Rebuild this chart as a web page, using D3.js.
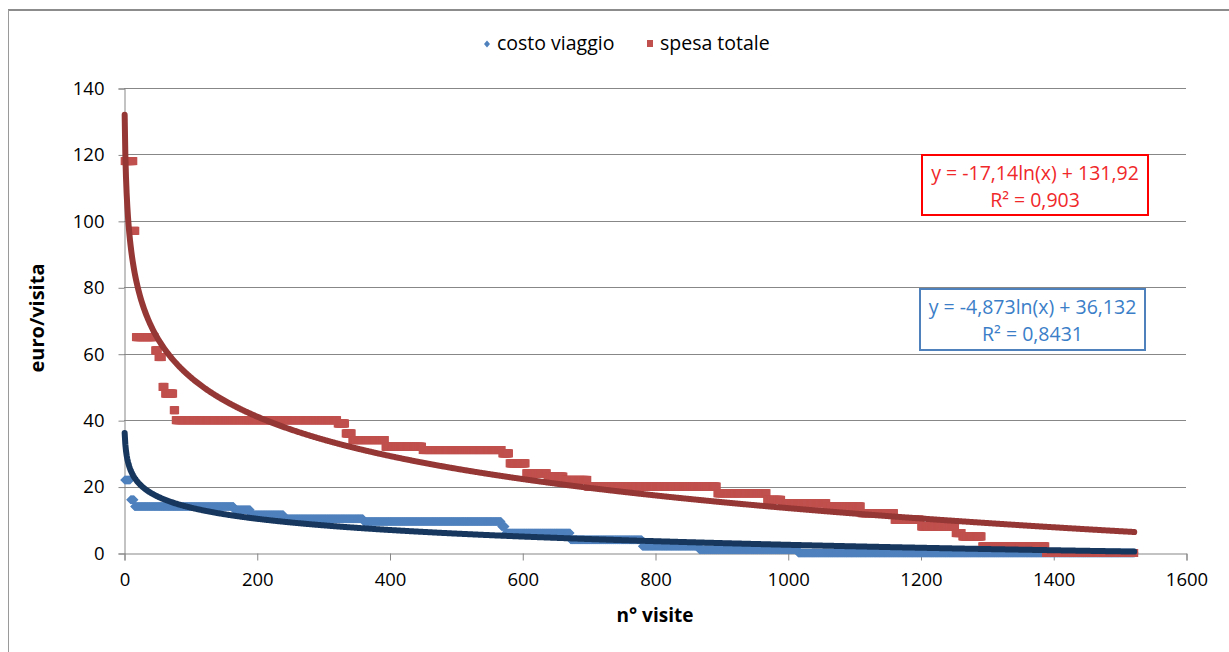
<!DOCTYPE html>
<html>
<head>
<meta charset="utf-8">
<script src="https://cdn.jsdelivr.net/npm/d3@7"></script>
<style>
  html, body { margin: 0; padding: 0; background: #ffffff; }
  svg { display: block; font-family: "Open Sans", "Noto Sans", sans-serif; }
</style>
</head>
<body>
<svg id="chart" width="1229" height="652"></svg>
<script>
// Visits sorted by decreasing amount: each value is repeated for the given number of visits.
const spesaValues = [118, 97, 65, 61, 59, 50, 48, 43, 40, 39, 36, 34, 32, 31, 30, 27, 24, 23, 22, 20, 18, 16, 15, 14, 12, 10, 8, 6, 5, 2, 0];
const spesaCounts = [14, 3, 29, 5, 6, 4, 13, 3, 244, 12, 10, 50, 56, 120, 11, 25, 32, 25, 36, 195, 75, 22, 68, 52, 50, 40, 52, 10, 30, 96, 134];

const costoValues = [22, 16, 14, 13, 11.5, 10.3, 9.5, 8, 6, 4, 2, 1, 0];
const costoCounts = [9, 6, 150, 25, 50, 120, 208, 6, 98, 108, 86, 149, 507];

// Logarithmic trendlines: y = a*ln(x) + b
const costoTrend = { a: -4.873, b: 36.132, r2: "0,8431" };
const spesaTrend = { a: -17.14, b: 131.92, r2: "0,903" };

const xTicks = [0, 200, 400, 600, 800, 1000, 1200, 1400, 1600];
const yTicks = [0, 20, 40, 60, 80, 100, 120, 140];

const seriesNames = ["costo viaggio", "spesa totale"];

function expand(values, counts) {
  const pts = [];
  let n = 0;
  values.forEach((v, i) => {
    for (let k = 0; k < counts[i]; k++) { n += 1; pts.push({ x: n, y: v }); }
  });
  return pts;
}

const costo = expand(costoValues, costoCounts);
const spesa = expand(spesaValues, spesaCounts);

const svg = d3.select("#chart");

// chart frame
svg.append("line").attr("x1", 8).attr("y1", 10).attr("x2", 1229).attr("y2", 10)
  .attr("stroke", "#8c8c8c").attr("stroke-width", 2);
svg.append("line").attr("x1", 8.5).attr("y1", 10).attr("x2", 8.5).attr("y2", 652)
  .attr("stroke", "#9a9a9a").attr("stroke-width", 1);

const x = d3.scaleLinear().domain([0, 1600]).range([124, 1186]);
const y = d3.scaleLinear().domain([0, 140]).range([553, 88]);

const gridColor = "#878787";

// horizontal gridlines
svg.append("g").selectAll("line").data(yTicks.filter(d => d > 0)).join("line")
  .attr("x1", x(0)).attr("x2", x(1600))
  .attr("y1", d => Math.round(y(d)) + 0.5).attr("y2", d => Math.round(y(d)) + 0.5)
  .attr("stroke", gridColor).attr("stroke-width", 1);

// y axis
const yAxis = d3.axisLeft(y).tickValues(yTicks).tickSize(6).tickPadding(14).tickFormat(d3.format("d"));
const gy = svg.append("g").attr("transform", `translate(${x(0) + 0.5},0.5)`).call(yAxis);
gy.select(".domain").attr("stroke", gridColor);
gy.selectAll(".tick line").attr("stroke", gridColor);
gy.selectAll(".tick text").attr("font-size", 18.5).attr("fill", "#000").attr("font-family", "Open Sans");

// x axis
const xAxis = d3.axisBottom(x).tickValues(xTicks).tickSize(7).tickPadding(12).tickFormat(d3.format("d"));
const gx = svg.append("g").attr("transform", `translate(0.5,${Math.round(y(0)) + 0.5})`).call(xAxis);
gx.select(".domain").attr("stroke", gridColor);
gx.selectAll(".tick line").attr("stroke", gridColor);
gx.selectAll(".tick text").attr("font-size", 18.5).attr("fill", "#000").attr("font-family", "Open Sans");

// data points
const blue = "#4f81bd", red = "#c0504d";
const diamond = "M0,-4.5L4.5,0L0,4.5L-4.5,0Z";
svg.append("g").selectAll("path").data(costo).join("path")
  .attr("d", diamond)
  .attr("transform", d => `translate(${x(d.x)},${y(d.y)})`)
  .attr("fill", blue);

svg.append("g").selectAll("rect").data(spesa).join("rect")
  .attr("x", d => x(d.x) - 4).attr("y", d => y(d.y) - 4)
  .attr("width", 8).attr("height", 8)
  .attr("fill", red);

// trendlines
function trendPoints(t, n) {
  return d3.range(1, n + 1).map(i => ({ x: i, y: t.a * Math.log(i) + t.b }));
}
const line = d3.line().x(d => x(d.x)).y(d => y(d.y)).curve(d3.curveLinear);
svg.append("path").datum(trendPoints(costoTrend, costo.length))
  .attr("d", line).attr("fill", "none").attr("stroke", "#17375e")
  .attr("stroke-width", 6).attr("stroke-linecap", "round");
svg.append("path").datum(trendPoints(spesaTrend, spesa.length))
  .attr("d", line).attr("fill", "none").attr("stroke", "#953735")
  .attr("stroke-width", 6).attr("stroke-linecap", "round");

// equation labels
const fmt = v => String(v).replace(".", ",");
function eqLabel(t, box, color, textColor) {
  const g = svg.append("g");
  g.append("rect").attr("x", box.x).attr("y", box.y).attr("width", box.w).attr("height", box.h)
    .attr("fill", "#fff").attr("stroke", color).attr("stroke-width", 2);
  const cx = box.x + box.w / 2;
  const sign = t.b >= 0 ? "+" : "-";
  g.append("text").attr("x", cx).attr("y", box.y + 25).attr("text-anchor", "middle")
    .attr("font-size", 19.5).attr("fill", textColor)
    .text(`y = ${fmt(t.a)}ln(x) ${sign} ${fmt(Math.abs(t.b))}`);
  g.append("text").attr("x", cx).attr("y", box.y + 52).attr("text-anchor", "middle")
    .attr("font-size", 19.5).attr("fill", textColor)
    .text(`R² = ${t.r2}`);
}
eqLabel(spesaTrend, { x: 922, y: 155, w: 226, h: 60 }, "#ff0000", "#f0282a");
eqLabel(costoTrend, { x: 920, y: 289, w: 225, h: 61 }, "#4f81bd", "#3b7ec8");

// legend
const lg = svg.append("g");
lg.append("path").attr("d", "M0,-3.5L3,0L0,3.5L-3,0Z").attr("transform", "translate(487,44)").attr("fill", blue);
lg.append("text").attr("x", 497).attr("y", 50).attr("font-size", 19.5).attr("fill", "#000").text(seriesNames[0]);
lg.append("rect").attr("x", 647).attr("y", 40).attr("width", 6).attr("height", 7).attr("fill", red);
lg.append("text").attr("x", 660).attr("y", 50).attr("font-size", 19.5).attr("fill", "#000").text(seriesNames[1]);

// axis titles
svg.append("text").attr("transform", "translate(44,318) rotate(-90)")
  .attr("text-anchor", "middle").attr("font-size", 20).attr("font-weight", "bold").attr("fill", "#000")
  .text("euro/visita");
svg.append("text").attr("x", 655).attr("y", 622)
  .attr("text-anchor", "middle").attr("font-size", 19).attr("font-weight", "bold").attr("fill", "#000")
  .text("n° visite");
</script>
</body>
</html>
